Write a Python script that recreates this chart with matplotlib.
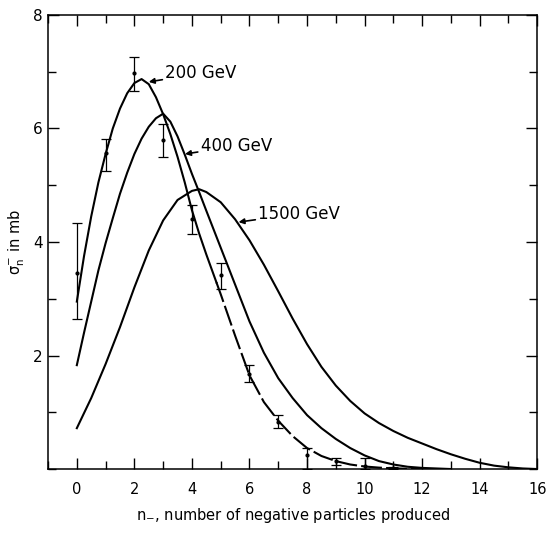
import numpy as np
import matplotlib
matplotlib.use("Agg")
import matplotlib.pyplot as plt
from matplotlib.ticker import MultipleLocator

plt.rcParams['font.family'] = ['DejaVu Sans']
plt.rcParams['mathtext.default'] = 'regular'

# --- curves (n_-, sigma in mb) ---
x_200 = [0, 0.25, 0.5, 0.75, 1, 1.25, 1.5, 1.75, 2, 2.25, 2.5, 2.75, 3, 3.25, 3.5, 3.75, 4, 4.25, 4.5, 4.75, 4.85]
y_200 = [2.95, 3.75, 4.45, 5.05, 5.55, 6.0, 6.35, 6.62, 6.8, 6.87, 6.78, 6.55, 6.25, 5.9, 5.5, 5.05, 4.56, 4.15, 3.78, 3.43, 3.29]
x_200_tail = [4.85, 5, 5.5, 6, 6.5, 7, 7.5, 8, 8.5, 9, 9.5, 10, 10.5, 11, 11.5, 12]
y_200_tail = [3.29, 3.08, 2.35, 1.65, 1.18, 0.85, 0.58, 0.37, 0.23, 0.14, 0.08, 0.045, 0.025, 0.012, 0.005, 0.0]

x_400 = [0, 0.25, 0.5, 0.75, 1, 1.25, 1.5, 1.75, 2, 2.25, 2.5, 2.75, 3, 3.25, 3.5, 3.75, 4, 4.25, 4.5,
         5, 5.5, 6, 6.5, 7, 7.5, 8, 8.5, 9, 9.5, 10, 10.5, 11, 11.5, 12, 13]
y_400 = [1.83, 2.4, 2.95, 3.5, 3.98, 4.42, 4.85, 5.22, 5.55, 5.82, 6.03, 6.18, 6.26, 6.12, 5.86, 5.54, 5.2, 4.88, 4.55,
         3.9, 3.25, 2.6, 2.05, 1.6, 1.25, 0.95, 0.72, 0.53, 0.37, 0.24, 0.14, 0.08, 0.04, 0.02, 0.0]

x_1500 = [0, 0.5, 1, 1.5, 2, 2.5, 3, 3.5, 4, 4.25, 4.5, 5, 5.5, 6, 6.5, 7, 7.5, 8, 8.5, 9, 9.5,
          10, 10.5, 11, 11.5, 12, 12.5, 13, 13.5, 14, 14.5, 15, 15.5, 16]
y_1500 = [0.72, 1.25, 1.85, 2.5, 3.2, 3.85, 4.38, 4.74, 4.9, 4.93, 4.88, 4.7, 4.4, 4.03, 3.6, 3.13, 2.65, 2.2, 1.8, 1.47, 1.2,
          0.98, 0.81, 0.67, 0.55, 0.45, 0.35, 0.26, 0.18, 0.11, 0.06, 0.03, 0.01, 0.0]

# --- 200 GeV measured points with asymmetric errors ---
n_data = [0, 1, 2, 3, 4, 5, 6, 7, 8, 9, 10, 11]
s_data = [3.46, 5.56, 6.97, 5.79, 4.41, 3.42, 1.68, 0.82, 0.25, 0.15, 0.05, 0.02]
err_lo = [0.82, 0.31, 0.31, 0.29, 0.27, 0.24, 0.14, 0.09, 0.25, 0.08, 0.05, 0.02]
err_hi = [0.88, 0.26, 0.29, 0.28, 0.24, 0.21, 0.15, 0.13, 0.12, 0.05, 0.14, 0.02]

fig = plt.figure(figsize=(5.46, 5.33), dpi=100)
ax = fig.add_axes([0.088, 0.12, 0.896, 0.852])

lw = 1.5
ax.plot(x_200, y_200, color='black', lw=lw)
ax.plot(x_200_tail, y_200_tail, color='black', lw=lw, linestyle=(0, (10, 2)))
ax.plot(x_400, y_400, color='black', lw=lw)
ax.plot(x_1500, y_1500, color='black', lw=lw)

ax.errorbar(n_data, s_data, yerr=[err_lo, err_hi], fmt='o', ms=2, color='black',
            ecolor='black', elinewidth=0.9, capsize=3.5, capthick=0.9)

# curve labels with leader lines
lab_kw = dict(fontsize=12, color='black', va='center', ha='left')
arr_kw = dict(arrowstyle='-|>', color='black', lw=1.2, mutation_scale=8, shrinkA=0, shrinkB=0)
ax.annotate('200 GeV', xy=(2.5, 6.82), xytext=(3.07, 6.97), arrowprops=arr_kw, **lab_kw)
ax.annotate('400 GeV', xy=(3.76, 5.55), xytext=(4.3, 5.69), arrowprops=arr_kw, **lab_kw)
ax.annotate('1500 GeV', xy=(5.62, 4.35), xytext=(6.3, 4.5), arrowprops=arr_kw, **lab_kw)

ax.set_xlim(-1, 16)
ax.set_ylim(0, 8)
ax.xaxis.set_major_locator(MultipleLocator(2))
ax.xaxis.set_minor_locator(MultipleLocator(1))
ax.yaxis.set_major_locator(MultipleLocator(2))
ax.yaxis.set_minor_locator(MultipleLocator(1))
ax.set_yticks([2, 4, 6, 8])
ax.tick_params(which='both', direction='in', top=True, right=True, labelsize=11, width=1.0)
ax.tick_params(axis='x', labelsize=10.5)
ax.tick_params(which='major', length=8)
ax.tick_params(which='minor', length=6)
ax.tick_params(axis='x', which='major', pad=9)
ax.tick_params(axis='y', which='major', pad=4)
for s in ax.spines.values():
    s.set_linewidth(1.1)

ax.set_xlabel('n$_{-}$, number of negative particles produced', fontsize=10.5, labelpad=7)
ax.set_ylabel(r'$\sigma^{-}_{n}$ in mb', fontsize=10.5, labelpad=4)

fig.savefig('out.png', dpi=100)
